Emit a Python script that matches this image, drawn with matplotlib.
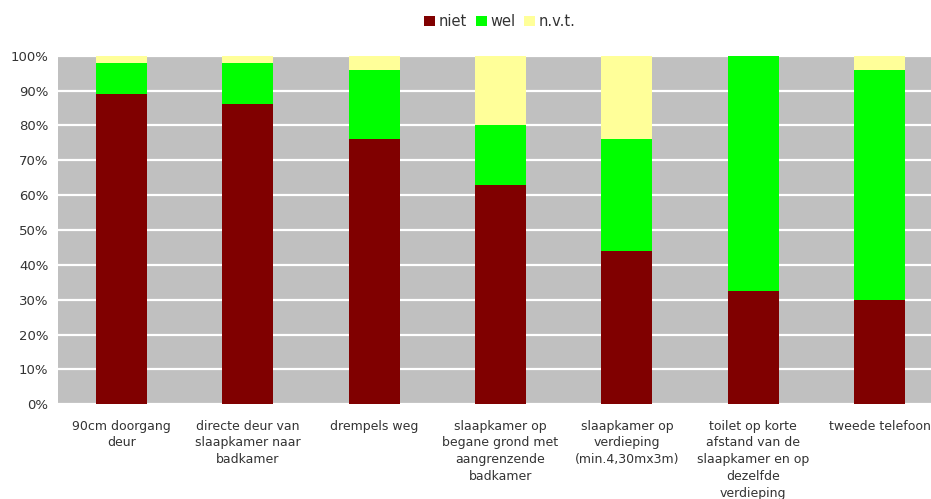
import matplotlib
matplotlib.use("Agg")
import matplotlib.pyplot as plt
import numpy as np
from matplotlib.patches import Patch

categories = [
    "90cm doorgang\ndeur",
    "directe deur van\nslaapkamer naar\nbadkamer",
    "drempels weg",
    "slaapkamer op\nbegane grond met\naangrenzende\nbadkamer",
    "slaapkamer op\nverdieping\n(min.4,30mx3m)",
    "toilet op korte\nafstand van de\nslaapkamer en op\ndezelfde\nverdieping",
    "tweede telefoon",
]
niet = [89, 86, 76, 63, 44, 32.5, 30]
wel = [9, 12, 20, 17, 32, 67.5, 66]
nvt = [2, 2, 4, 20, 24, 0, 4]
series_names = ["niet", "wel", "n.v.t."]
colors = ["#800000", "#00FF00", "#FFFF99"]
yticks = [0, 10, 20, 30, 40, 50, 60, 70, 80, 90, 100]

plt.rcParams["font.family"] = ["DejaVu Sans"]
fig = plt.figure(figsize=(9.31, 4.99), dpi=100)
ax = fig.add_axes([0.0626, 0.1898, 0.950, 0.6986])
ax.set_facecolor("#C0C0C0")

x = np.arange(len(categories))
w = 0.404
b1 = np.array(niet)
b2 = b1 + np.array(wel)
ax.bar(x, niet, w, color=colors[0], zorder=3)
ax.bar(x, wel, w, bottom=b1, color=colors[1], zorder=3)
ax.bar(x, nvt, w, bottom=b2, color=colors[2], zorder=3)

ax.set_xlim(-0.5, len(categories) - 0.5)
ax.set_ylim(0, 100)
ax.set_yticks(yticks)
ax.set_yticklabels([f"{v}%" for v in yticks], fontsize=9.5, color="#333333")
ax.yaxis.grid(True, color="white", linewidth=1.6, zorder=1)
ax.set_axisbelow(True)
ax.set_xticks(x)
ax.set_xticklabels(categories, fontsize=9, color="#333333", linespacing=1.38)
ax.tick_params(axis="both", length=0)
ax.tick_params(axis="x", pad=11)
ax.tick_params(axis="y", pad=7)
for s in ax.spines.values():
    s.set_visible(False)

handles = [Patch(facecolor=c, edgecolor="none") for c in colors]
fig.legend(handles, series_names, loc="center", bbox_to_anchor=(0.537, 0.957),
           ncol=3, frameon=False, fontsize=10.5, handlelength=0.75, handleheight=0.75,
           handletextpad=0.25, columnspacing=0.6, labelcolor="#333333")

fig.savefig("out.png", dpi=100)
